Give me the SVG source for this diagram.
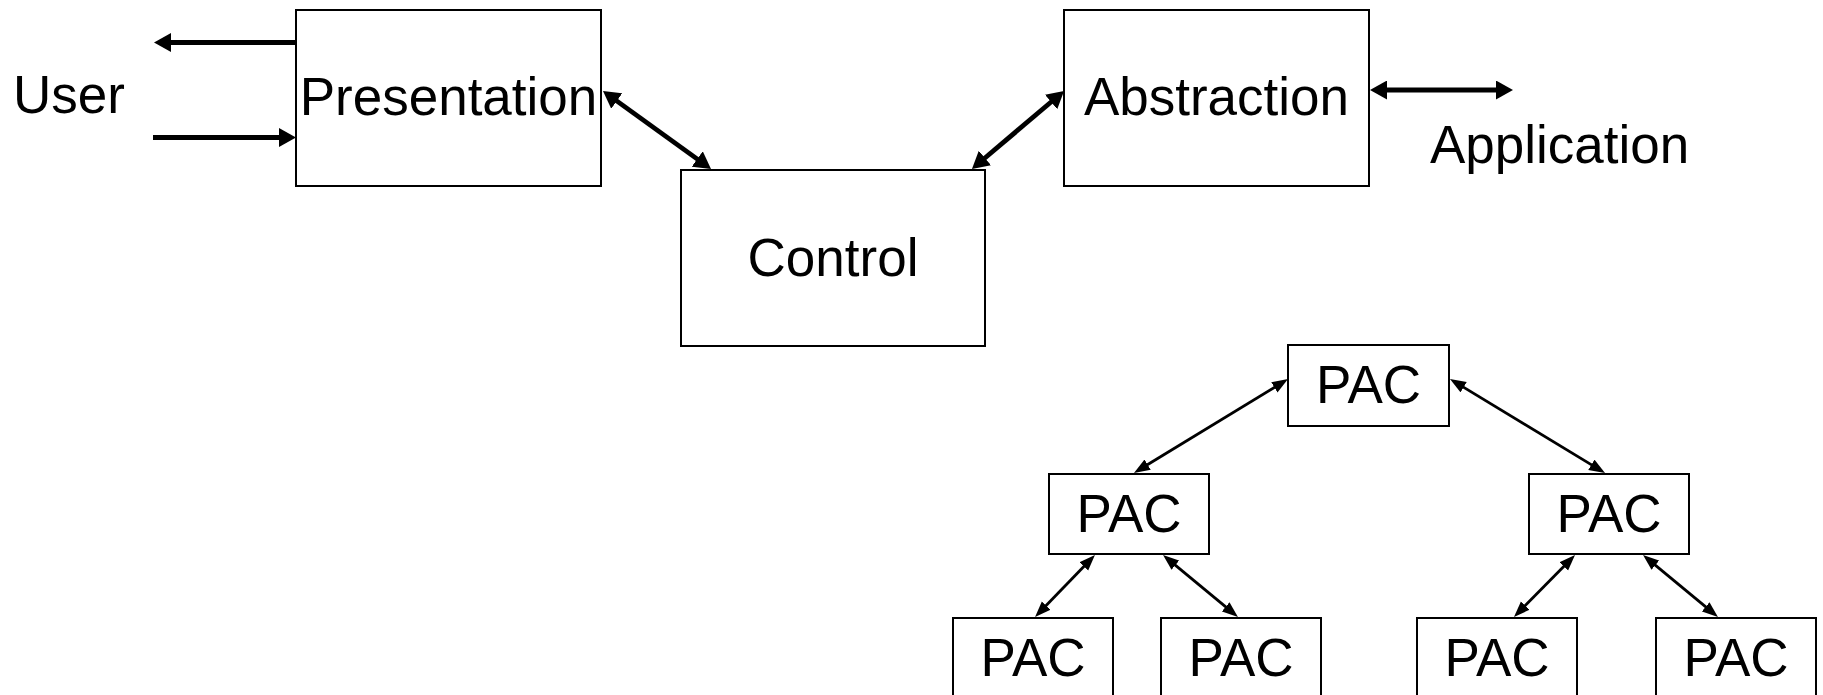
<svg xmlns="http://www.w3.org/2000/svg" width="1823" height="695" viewBox="0 0 1823 695">
  <style>
    .box { fill: #ffffff; stroke: #000000; stroke-width: 2; }
    .label { font-family: "Liberation Sans", Arial, sans-serif; font-size: 53px; fill: #000000; }
    .mid { text-anchor: middle; }
    .thick { stroke: #000000; stroke-width: 4.8; fill: none; }
    .thin { stroke: #000000; stroke-width: 2.8; fill: none; }
  </style>
  <defs>
    <marker id="headBig" markerUnits="userSpaceOnUse" markerWidth="18" markerHeight="19" refX="7" refY="9.5" orient="auto-start-reverse">
      <path d="M0,0 L17,9.5 L0,19 z" fill="#000000"/>
    </marker>
    <marker id="headSmall" markerUnits="userSpaceOnUse" markerWidth="16" markerHeight="13" refX="8" refY="6" orient="auto-start-reverse">
      <path d="M0,0 L16,6 L0,12 z" fill="#000000"/>
    </marker>
  </defs>

  <!-- free labels -->
  <text class="label" x="13" y="113">User</text>
  <text class="label" x="1430" y="163">Application</text>

  <!-- connectors -->
  <g id="connectors">
    <line class="thick" x1="296" y1="42.5" x2="164" y2="42.5" marker-end="url(#headBig)"/>
    <line class="thick" x1="153" y1="137.5" x2="286" y2="137.5" marker-end="url(#headBig)"/>
    <line class="thick" x1="611.1" y1="96.9" x2="702.9" y2="163.1" marker-start="url(#headBig)" marker-end="url(#headBig)"/>
    <line class="thick" x1="979.6" y1="162.5" x2="1056.4" y2="97.5" marker-start="url(#headBig)" marker-end="url(#headBig)"/>
    <line class="thick" x1="1380" y1="90" x2="1503" y2="90" marker-start="url(#headBig)" marker-end="url(#headBig)"/>

    <line class="thin" x1="1281.2" y1="383.2" x2="1140.8" y2="468.8" marker-start="url(#headSmall)" marker-end="url(#headSmall)"/>
    <line class="thin" x1="1456.8" y1="383.1" x2="1598.2" y2="468.9" marker-start="url(#headSmall)" marker-end="url(#headSmall)"/>
    <line class="thin" x1="1089.4" y1="560.7" x2="1040.6" y2="611.3" marker-start="url(#headSmall)" marker-end="url(#headSmall)"/>
    <line class="thin" x1="1169.2" y1="560.1" x2="1231.8" y2="611.9" marker-start="url(#headSmall)" marker-end="url(#headSmall)"/>
    <line class="thin" x1="1569.4" y1="560.7" x2="1519.6" y2="611.3" marker-start="url(#headSmall)" marker-end="url(#headSmall)"/>
    <line class="thin" x1="1649.2" y1="560.1" x2="1711.8" y2="611.9" marker-start="url(#headSmall)" marker-end="url(#headSmall)"/>
  </g>

  <!-- PAC agent -->
  <g id="presentation">
    <rect class="box" x="296" y="10" width="305" height="176"/>
    <text class="label mid" x="448.5" y="115">Presentation</text>
  </g>
  <g id="control">
    <rect class="box" x="681" y="170" width="304" height="176"/>
    <text class="label mid" x="833" y="276">Control</text>
  </g>
  <g id="abstraction">
    <rect class="box" x="1064" y="10" width="305" height="176"/>
    <text class="label mid" x="1216.5" y="115">Abstraction</text>
  </g>

  <!-- PAC hierarchy -->
  <g id="pac-root">
    <rect class="box" x="1288" y="345" width="161" height="81"/>
    <text class="label mid" x="1368.5" y="403">PAC</text>
  </g>
  <g id="pac-left">
    <rect class="box" x="1049" y="474" width="160" height="80"/>
    <text class="label mid" x="1129" y="532">PAC</text>
  </g>
  <g id="pac-right">
    <rect class="box" x="1529" y="474" width="160" height="80"/>
    <text class="label mid" x="1609" y="532">PAC</text>
  </g>
  <g id="pac-left-1">
    <rect class="box" x="953" y="618" width="160" height="81"/>
    <text class="label mid" x="1033" y="676">PAC</text>
  </g>
  <g id="pac-left-2">
    <rect class="box" x="1161" y="618" width="160" height="81"/>
    <text class="label mid" x="1241" y="676">PAC</text>
  </g>
  <g id="pac-right-1">
    <rect class="box" x="1417" y="618" width="160" height="81"/>
    <text class="label mid" x="1497" y="676">PAC</text>
  </g>
  <g id="pac-right-2">
    <rect class="box" x="1656" y="618" width="160" height="81"/>
    <text class="label mid" x="1736" y="676">PAC</text>
  </g>
</svg>
